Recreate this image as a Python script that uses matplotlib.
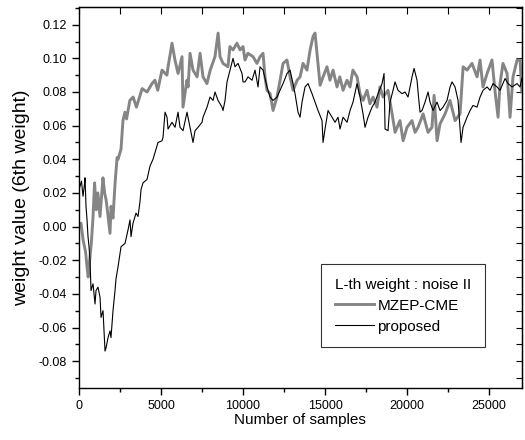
import matplotlib
matplotlib.use("Agg")
import matplotlib.pyplot as plt
from matplotlib.ticker import MultipleLocator, FormatStrFormatter

plt.rcParams['font.family'] = ['Liberation Sans', 'DejaVu Sans']

# MZEP-CME (grey, thick)
mzep_x = [0, 120, 250, 400, 500, 560, 650, 750, 850, 950, 1050, 1150, 1280, 1350,
          1460, 1560, 1650, 1750, 1890, 1950, 2070, 2200, 2320, 2380, 2560, 2680,
          2800, 2900, 3100, 3300, 3500, 3850, 4150, 4450, 4630, 4800, 5060, 5360,
          5430, 5670, 5850, 6040, 6280, 6340, 6580, 6650, 6770, 6950, 7200, 7380,
          7560, 7800, 8000, 8290, 8480, 8600, 8780, 9080, 9200, 9390, 9630, 9820,
          10000, 10120, 10300, 10610, 10850, 11040, 11220, 11340, 11460, 11650,
          11830, 12070, 12260, 12440, 12680, 12870, 13050, 13300, 13480, 13660,
          13900, 14090, 14270, 14390, 14510, 14700, 14880, 15120, 15300, 15490,
          15730, 15900, 16100, 16340, 16520, 16700, 16950, 17130, 17320, 17560,
          17740, 17930, 18170, 18350, 18540, 18840, 19090, 19270, 19570, 19760,
          20000, 20300, 20490, 20670, 20980, 21280, 21520, 21650, 21830, 22010,
          22320, 22620, 22930, 23230, 23420, 23660, 23960, 24270, 24450, 24630,
          24880, 25180, 25370, 25550, 25670, 25850, 26100, 26280, 26460, 26710,
          26890, 27000]
mzep_y = [0.000, 0.002, -0.008, -0.015, -0.025, -0.030, -0.020, -0.010, 0.005, 0.026,
          0.010, 0.020, 0.006, 0.015, 0.029, 0.020, 0.016, 0.008, -0.004, 0.012,
          0.005, 0.026, 0.041, 0.040, 0.046, 0.063, 0.068, 0.064, 0.075, 0.077,
          0.071, 0.082, 0.080, 0.085, 0.087, 0.081, 0.093, 0.090, 0.095, 0.109,
          0.099, 0.091, 0.101, 0.071, 0.087, 0.083, 0.103, 0.093, 0.089, 0.103,
          0.089, 0.085, 0.093, 0.101, 0.115, 0.101, 0.097, 0.095, 0.107, 0.105,
          0.109, 0.105, 0.107, 0.099, 0.103, 0.101, 0.097, 0.101, 0.103, 0.089,
          0.081, 0.079, 0.069, 0.077, 0.087, 0.097, 0.099, 0.089, 0.081, 0.087,
          0.089, 0.097, 0.093, 0.105, 0.113, 0.115, 0.103, 0.084, 0.089, 0.095,
          0.087, 0.093, 0.083, 0.089, 0.081, 0.087, 0.083, 0.093, 0.089, 0.079,
          0.075, 0.081, 0.073, 0.077, 0.071, 0.083, 0.077, 0.081, 0.067, 0.056,
          0.063, 0.051, 0.059, 0.063, 0.056, 0.059, 0.067, 0.056, 0.059, 0.078,
          0.051, 0.061, 0.067, 0.075, 0.063, 0.067, 0.095, 0.093, 0.097, 0.089,
          0.099, 0.083, 0.091, 0.099, 0.080, 0.065, 0.085, 0.097, 0.091, 0.065,
          0.089, 0.099, 0.099, 0.080]

# proposed (black, thin)
prop_x = [0, 60, 150, 244, 330, 366, 427, 490, 549, 610, 671, 732, 854, 976, 1037,
          1159, 1281, 1342, 1464, 1586, 1650, 1770, 1890, 1950, 2073, 2195, 2256,
          2378, 2561, 2805, 2988, 3110, 3171, 3293, 3476, 3598, 3720, 3781, 3903,
          4146, 4329, 4512, 4634, 4817, 5061, 5122, 5244, 5366, 5427, 5671, 5854,
          6037, 6159, 6342, 6585, 6768, 6951, 7073, 7256, 7500, 7561, 7805, 7988,
          8171, 8293, 8476, 8720, 8781, 8903, 9024, 9207, 9390, 9512, 9695, 9939,
          10000, 10122, 10305, 10549, 10732, 10915, 11037, 11220, 11464, 11646,
          11829, 12073, 12256, 12439, 12683, 12866, 13049, 13171, 13354, 13476,
          13598, 13781, 13964, 14207, 14390, 14573, 14817, 14878, 15000, 15183,
          15427, 15610, 15793, 15915, 16098, 16342, 16524, 16707, 16951, 17134,
          17317, 17439, 17622, 17866, 18049, 18232, 18476, 18598, 18659, 18841,
          18963, 19146, 19268, 19451, 19695, 19878, 20061, 20305, 20427, 20610,
          20700, 20793, 20915, 21098, 21281, 21402, 21585, 21829, 22012, 22195,
          22439, 22622, 22744, 22927, 23110, 23293, 23415, 23659, 23842, 24024,
          24268, 24451, 24634, 24878, 25061, 25244, 25488, 25671, 25976, 26159,
          26402, 26707, 26890, 27000]
prop_y = [0.022, 0.024, 0.027, 0.018, 0.025, 0.029, 0.012, 0.004, -0.006, -0.012,
          -0.020, -0.038, -0.034, -0.046, -0.038, -0.036, -0.042, -0.054, -0.050,
          -0.074, -0.072, -0.066, -0.062, -0.066, -0.050, -0.038, -0.031, -0.024,
          -0.012, -0.010, -0.002, 0.004, -0.006, 0.002, 0.008, 0.006, 0.015, 0.022,
          0.026, 0.028, 0.036, 0.040, 0.044, 0.050, 0.051, 0.053, 0.068, 0.065,
          0.058, 0.062, 0.059, 0.068, 0.059, 0.057, 0.068, 0.059, 0.050, 0.057,
          0.059, 0.062, 0.065, 0.071, 0.077, 0.075, 0.080, 0.075, 0.071, 0.069,
          0.075, 0.086, 0.093, 0.100, 0.095, 0.097, 0.091, 0.086, 0.086, 0.089,
          0.087, 0.093, 0.083, 0.095, 0.093, 0.083, 0.077, 0.075, 0.077, 0.081,
          0.085, 0.091, 0.093, 0.085, 0.079, 0.068, 0.065, 0.074, 0.083, 0.085,
          0.079, 0.074, 0.069, 0.063, 0.050, 0.058, 0.069, 0.065, 0.062, 0.065,
          0.058, 0.065, 0.062, 0.069, 0.074, 0.085, 0.077, 0.067, 0.059, 0.065,
          0.071, 0.074, 0.079, 0.085, 0.091, 0.058, 0.057, 0.074, 0.081, 0.086,
          0.081, 0.079, 0.080, 0.077, 0.089, 0.094, 0.087, 0.077, 0.068, 0.069,
          0.074, 0.080, 0.074, 0.069, 0.074, 0.069, 0.071, 0.075, 0.083, 0.086,
          0.083, 0.075, 0.050, 0.059, 0.065, 0.069, 0.072, 0.071, 0.077, 0.081,
          0.083, 0.081, 0.085, 0.083, 0.081, 0.088, 0.085, 0.083, 0.085, 0.083,
          0.088]

fig = plt.figure(figsize=(5.25, 4.4), dpi=100)
ax = fig.add_axes([0.1505, 0.118, 0.8435, 0.866])

ax.plot(mzep_x, mzep_y, color='#858585', lw=2.1, label='MZEP-CME')
ax.plot(prop_x, prop_y, color='black', lw=0.8, label='proposed')

ax.set_xlim(0, 27000)
ax.set_ylim(-0.096, 0.1305)
ax.xaxis.set_major_locator(MultipleLocator(5000))
ax.xaxis.set_minor_locator(MultipleLocator(2500))
ax.yaxis.set_major_locator(MultipleLocator(0.02))
ax.yaxis.set_minor_locator(MultipleLocator(0.01))
ax.yaxis.set_major_formatter(FormatStrFormatter('%.2f'))

ax.tick_params(which='both', direction='out', labelsize=9, width=1)
ax.tick_params(which='major', length=5)
ax.tick_params(which='minor', length=3)
for sp in ax.spines.values():
    sp.set_linewidth(1.0)

# inward ticks on top and right
top = ax.secondary_xaxis('top')
top.xaxis.set_major_locator(MultipleLocator(2500))
top.tick_params(direction='in', length=5, labeltop=False)
right = ax.secondary_yaxis('right')
right.yaxis.set_major_locator(MultipleLocator(0.01))
right.tick_params(direction='in', length=4, labelright=False)

ax.set_xlabel('Number of samples', fontsize=11, labelpad=1)
ax.set_ylabel('weight value (6th weight)', fontsize=14, labelpad=6)

leg = ax.legend(title='L-th weight : noise II', loc='lower left',
                bbox_to_anchor=(0.546, 0.107), fontsize=11, title_fontsize=11,
                frameon=True, fancybox=False, edgecolor='black',
                handlelength=2.6, handletextpad=0.2, borderpad=0.9,
                labelspacing=0.45, borderaxespad=0, alignment='left')
leg.get_frame().set_linewidth(0.8)

fig.savefig('out.png', dpi=100)
